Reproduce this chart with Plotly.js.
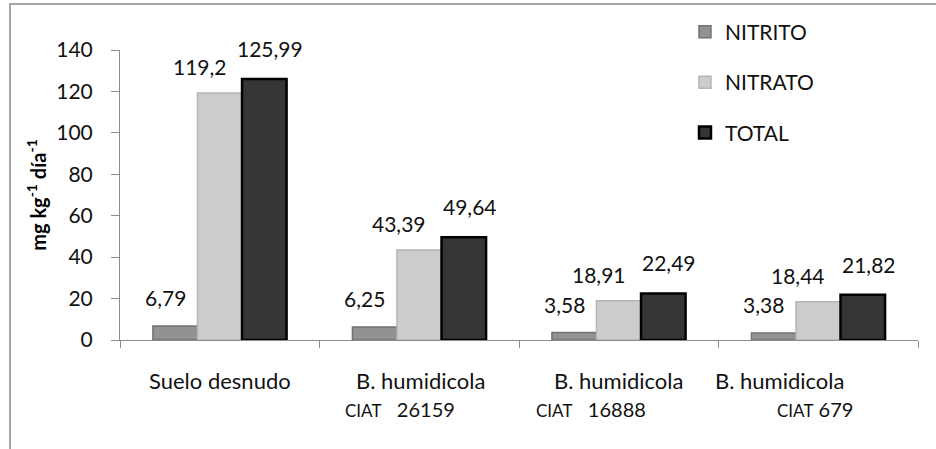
<!DOCTYPE html>
<html>
<head>
<meta charset="utf-8">
<script src="https://cdn.plot.ly/plotly-3.0.1.min.js"></script>
<style>
  html, body { margin: 0; padding: 0; background: #fff; }
  #wrap { position: relative; width: 936px; height: 449px; overflow: hidden; }
  #chart { width: 936px; height: 449px; }
  #frame { position: absolute; left: 9px; top: 3px; width: 940px; height: 460px;
           border-top: 2px solid #a6a6a6; border-left: 2px solid #a6a6a6; pointer-events: none; }
</style>
</head>
<body>
<div id="wrap">
  <div id="chart"></div>
  <div id="frame"></div>
</div>
<script>
// ---- data ----
const categories = ["Suelo desnudo", "B. humidicola 26159", "B. humidicola 16888", "B. humidicola 679"];
const catLine1 = ["Suelo desnudo", "B. humidicola", "B. humidicola", "B. humidicola"];
const catLine2 = ["", "CIAT   26159", "CIAT   16888", "CIAT 679"];
const seriesNames = ["NITRITO", "NITRATO", "TOTAL"];
const nitrito = [6.79, 6.25, 3.58, 3.38];
const nitrato = [119.2, 43.39, 18.91, 18.44];
const total = [125.99, 49.64, 22.49, 21.82];
const yTicks = [0, 20, 40, 60, 80, 100, 120, 140];

// ---- styles ----
const fills = ["#929292", "#cccccc", "#353535"];
const edges = ["#727272", "#b4b4b4", "#000000"];
const edgeW = [1.5, 1.5, 2.5];
const labelShiftX = [-10, -20, 6];
const labelShiftY = [14, 12, 16];
const line1ShiftX = [0, 1, 0, -39];
const line2ShiftX = [0, -19, -28, -3];

const FONT = "Lato, 'Liberation Sans', sans-serif";
const allSeries = [nitrito, nitrato, total];
const fmt = v => String(v).replace(".", ",");

const traces = allSeries.map((vals, i) => ({
  type: "bar",
  name: seriesNames[i],
  x: categories,
  y: vals,
  legendgroup: "g" + i,
  marker: { color: fills[i], line: { color: edges[i], width: edgeW[i] } },
  hoverinfo: "x+y"
}));

const margin = { l: 120, r: 18, t: 44, b: 109 };
const plotW = 936 - margin.l - margin.r;
const bargap = 0.33;
const barW = plotW / categories.length * (1 - bargap) / allSeries.length;

const annotations = [];
allSeries.forEach((vals, i) => {
  vals.forEach((v, j) => {
    annotations.push({
      x: categories[j], y: v, xref: "x", yref: "y",
      text: fmt(v), showarrow: false,
      xanchor: "center", yanchor: "bottom",
      xshift: (i - 1) * barW + labelShiftX[i],
      yshift: labelShiftY[i],
      font: { family: FONT, size: 21, color: "#111" }
    });
  });
});
categories.forEach((c, j) => {
  annotations.push({
    x: c, y: 0, xref: "x", yref: "paper",
    text: catLine1[j], showarrow: false,
    xanchor: "center", yanchor: "top",
    xshift: line1ShiftX[j], yshift: -25,
    font: { family: FONT, size: 22, color: "#111" }
  });
  if (catLine2[j]) {
    annotations.push({
      x: c, y: 0, xref: "x", yref: "paper",
      text: catLine2[j].replace("CIAT", "<span style='font-size:17px'>CIAT</span>"),
      showarrow: false,
      xanchor: "center", yanchor: "top",
      xshift: line2ShiftX[j], yshift: -55,
      font: { family: FONT, size: 20, color: "#111" }
    });
  }
});

const layout = {
  width: 936, height: 449,
  margin: margin,
  paper_bgcolor: "#fff", plot_bgcolor: "#fff",
  font: { family: FONT, size: 20, color: "#111" },
  barmode: "group",
  bargap: bargap, bargroupgap: 0,
  showlegend: true,
  legend: {
    x: 0.708, y: 1.132, xanchor: "left", yanchor: "top",
    bgcolor: "rgba(0,0,0,0)",
    font: { family: FONT, size: 21, color: "#111" },
    traceorder: "grouped", tracegroupgap: 20
  },
  xaxis: {
    type: "category",
    tickvals: categories,
    showticklabels: false,
    tickson: "boundaries",
    ticks: "outside", ticklen: 7, tickcolor: "#8c8c8c",
    showline: true, linecolor: "#8c8c8c", linewidth: 1,
    showgrid: false, zeroline: false,
    range: [-0.5, 3.5], fixedrange: true
  },
  yaxis: {
    range: [0, 140],
    tickvals: yTicks,
    ticks: "outside", ticklen: 8, tickcolor: "#8c8c8c",
    showline: true, linecolor: "#8c8c8c", linewidth: 1,
    showgrid: false, zeroline: false,
    ticklabelstandoff: 14,
    tickfont: { family: FONT, size: 21, color: "#111" },
    title: { text: "<b>mg kg<sup>-1</sup> día<sup>-1</sup></b>", standoff: 4,
             font: { family: FONT, size: 20, color: "#000" } },
    fixedrange: true
  },
  annotations: annotations
};

Plotly.newPlot("chart", traces, layout, { displayModeBar: false, staticPlot: true });
</script>
</body>
</html>
